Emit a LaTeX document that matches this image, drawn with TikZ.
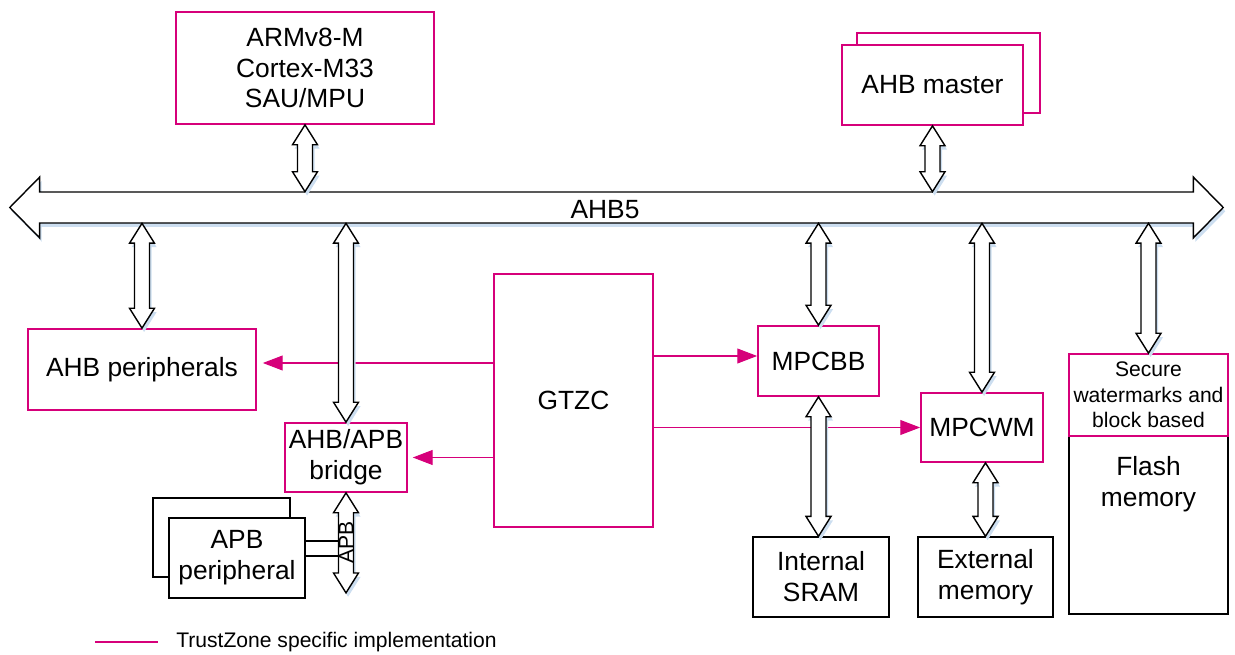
\documentclass[tikz,border=0pt]{standalone}
\usepackage{fontspec}
\setmainfont{Liberation Sans}
\usetikzlibrary{calc,arrows.meta,shadows}
\definecolor{tzpink}{RGB}{214,0,122}
\definecolor{shadowblue}{RGB}{204,222,240}
\tikzset{
    box/.style={draw=black, line width=0.8pt, fill=white, inner sep=0pt, align=center,
        font=\fontsize{15}{17.6}\selectfont},
    tzbox/.style={box, draw=tzpink, line width=1pt},
    tzarrow/.style={draw=tzpink, line width=0.6pt, -{Triangle[length=11.3pt,width=8.5pt]}},
    % double block arrow between two points: head length, head half width, shaft half width
    dblarrow/.style n args={3}{draw=black, line width=0.8pt, fill=white, line join=miter,
        drop shadow={shadow xshift=1.2pt, shadow yshift=-2.2pt, fill=shadowblue, opacity=1},
        to path={
            -- ($(\tikztostart)!#1!(\tikztotarget)!#2!90:(\tikztotarget)$)
            -- ($(\tikztostart)!#1!(\tikztotarget)!#3!90:(\tikztotarget)$)
            -- ($(\tikztotarget)!#1!(\tikztostart)!#3!-90:(\tikztostart)$)
            -- ($(\tikztotarget)!#1!(\tikztostart)!#2!-90:(\tikztostart)$)
            -- (\tikztotarget)
            -- ($(\tikztotarget)!#1!(\tikztostart)!#2!90:(\tikztostart)$)
            -- ($(\tikztotarget)!#1!(\tikztostart)!#3!90:(\tikztostart)$)
            -- ($(\tikztostart)!#1!(\tikztotarget)!#3!-90:(\tikztotarget)$)
            -- ($(\tikztostart)!#1!(\tikztotarget)!#2!-90:(\tikztotarget)$)
            -- cycle}},
    blockarrow/.style={dblarrow={11.3pt}{7.1pt}{4.25pt}}
}
\begin{document}
\begin{tikzpicture}[x=0.02cm, y=-0.02cm]
    \useasboundingbox (0,0) rectangle (1235,655);
    % blocks
    \node[tzbox, minimum width=5.16cm, minimum height=2.24cm] (cpu) at (305,68) {ARMv8-M\\Cortex-M33\\SAU/MPU};
    \node[tzbox, minimum width=3.66cm, minimum height=1.6cm] (masterback) at (948.5,73) {};
    \node[tzbox, minimum width=3.62cm, minimum height=1.6cm] (master) at (932.5,85) {AHB master};
    \node[inner sep=0pt, minimum width=24.26cm, minimum height=0.62cm] (bus) at (616.5,207.5) {};
    \node[tzbox, minimum width=4.56cm, minimum height=1.62cm] (ahbper) at (142,369.5) {AHB peripherals};
    \node[tzbox, minimum width=2.44cm, minimum height=1.38cm] (bridge) at (346,457.5) {AHB/APB\\bridge};
    \node[box, minimum width=2.74cm, minimum height=1.58cm] (apbback) at (221.5,537.5) {};
    \node[box, minimum width=2.72cm, minimum height=1.6cm] (apb) at (237,558) {APB\\peripheral};
    \node[tzbox, minimum width=3.18cm, minimum height=5.06cm] (gtzc) at (573.5,400.5) {GTZC};
    \node[tzbox, minimum width=2.42cm, minimum height=1.4cm] (mpcbb) at (818.5,361) {MPCBB};
    \node[tzbox, minimum width=2.44cm, minimum height=1.38cm] (mpcwm) at (982,427.5) {MPCWM};
    \node[box, minimum width=2.72cm, minimum height=1.6cm] (sram) at (821,577) {Internal\\SRAM};
    \node[box, minimum width=2.70cm, minimum height=1.6cm] (extmem) at (985.5,577) {External\\memory};
    \node[box, minimum width=3.18cm, minimum height=5.18cm] (flash) at (1148.5,484.5) {Flash\\memory};
    \node[tzbox, minimum width=3.18cm, minimum height=1.64cm, font=\fontsize{12}{14.5}\selectfont]
        (secure) at (1148.5,395) {Secure\\watermarks and\\block based};
    % GTZC control lines
    \coordinate (perin) at ($(ahbper.east)+(6,-6.5)$);
    \coordinate (bbin) at ($(mpcbb.west)+(0,-5)$);
    \draw[tzarrow] (gtzc.west |- perin) -- (perin);
    \draw[tzarrow, shorten >=2.8pt] (gtzc.west |- bridge.east) -- (bridge.east);
    \draw[tzarrow] (gtzc.east |- bbin) -- (bbin);
    \draw[tzarrow] (gtzc.east |- mpcwm.west) -- (mpcwm.west);
    % APB side
    \coordinate (apbend) at ($(bridge.south)+(0,100)$);
    \coordinate (apbtop) at ($(apb.east)+(0,-17)$);
    \coordinate (apbbot) at ($(apb.east)+(0,-2)$);
    \draw[line width=0.6pt] (apbtop) -- (apbtop -| apbend);
    \draw[line width=0.6pt] (apbbot) -- (apbbot -| apbend);
    % bus and block arrows
    \draw[dblarrow={17pt}{17.3pt}{8.8pt}] (bus.west) to (bus.east);
    \node[font=\fontsize{15}{17.6}\selectfont] (buslabel) at (605,210) {AHB5};
    \draw[blockarrow] (cpu.south) to (cpu.south |- bus.north);
    \draw[blockarrow] (master.south) to (master.south |- bus.north);
    \draw[blockarrow] (bus.south -| ahbper.north) to (ahbper.north);
    \draw[blockarrow] (bus.south -| bridge.north) to (bridge.north);
    \draw[blockarrow] (bus.south -| mpcbb.north) to (mpcbb.north);
    \draw[blockarrow] (bus.south -| mpcwm.north) to (mpcwm.north);
    \draw[blockarrow] (bus.south -| secure.north) to (secure.north);
    \draw[blockarrow] (mpcbb.south) to (mpcbb.south |- sram.north);
    \draw[blockarrow] (extmem.north |- mpcwm.south) to (extmem.north);
    \draw[blockarrow] (bridge.south) to (apbend);
    \node[rotate=90, font=\fontsize{12}{14}\selectfont] (apblabel) at ($(bridge.south)!0.5!(apbend)$) {APB};
    % legend
    \coordinate (keyl) at (95,642);
    \coordinate (keyr) at (158,642);
    \draw[draw=tzpink, line width=0.9pt] (keyl) -- (keyr);
    \node[anchor=west, inner sep=0pt, font=\fontsize{12}{14}\selectfont] (keytext) at (176,642)
        {TrustZone specific implementation};
\end{tikzpicture}
\end{document}
